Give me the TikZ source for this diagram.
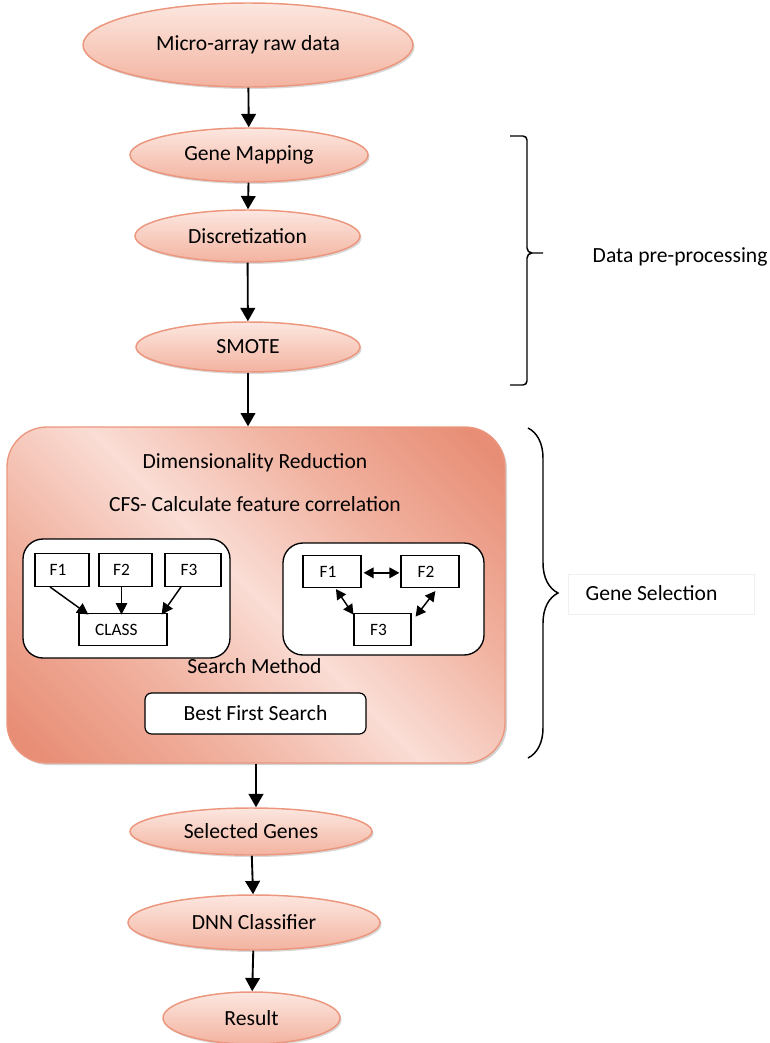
\documentclass[tikz,border=0pt]{standalone}
\usepackage{fontspec}
\setmainfont{Carlito}
\usetikzlibrary{shapes.geometric,arrows.meta,shadows,decorations.pathreplacing}
\definecolor{ellB}{HTML}{EB967D}
\definecolor{ellT}{HTML}{FCE7E0}
\definecolor{ellBot}{HTML}{F3B3A0}
\definecolor{bigD}{HTML}{E88E76}
\definecolor{bigM}{HTML}{F1B3A1}
\definecolor{bigL}{HTML}{FADDD5}
\pgfdeclarehorizontalshading{bigshade}{100bp}{color(0bp)=(bigD); color(18bp)=(bigD); color(35bp)=(bigM); color(50bp)=(bigL); color(65bp)=(bigM); color(82bp)=(bigD); color(100bp)=(bigD)}
\begin{document}
\begin{tikzpicture}[x=0.75pt,y=-0.75pt,
  mainfont/.style={font=\fontsize{16.2}{19}\selectfont},
  ell/.style={ellipse, draw=ellB, line width=1.1pt, top color=ellT, bottom color=ellBot,
    inner sep=0pt, mainfont, drop shadow={shadow xshift=1.2pt, shadow yshift=-1.5pt, opacity=0.3}},
  arr/.style={line width=1.4pt, -{Triangle[length=10pt,width=11pt]}},
  iarr/.style={line width=1.1pt, -{Triangle[length=8.5pt,width=8.5pt]}},
  darr/.style={line width=1.1pt, {Triangle[length=7.5pt,width=8pt]}-{Triangle[length=7.5pt,width=8pt]}},
  fbox/.style={draw, line width=0.9pt, fill=white, inner sep=0pt, minimum height=24.5pt, font=\fontsize{13}{15}\selectfont},
  inbox/.style={draw, line width=1pt, fill=white, rounded corners=15pt, inner sep=0pt},
  brace/.style={line width=1.1pt}
]
\useasboundingbox (0,0) rectangle (770,1043);

% top pipeline
\node[ell, minimum width=247.5pt, minimum height=63pt] (raw) at (248,45) {Micro-array raw data};
\node[ell, minimum width=178.5pt, minimum height=40.5pt] (gm) at (249,155) {Gene Mapping};
\node[ell, minimum width=168.75pt, minimum height=39pt] (disc) at (247.5,236) {Discretization};
\node[ell, minimum width=168pt, minimum height=37.5pt] (smote) at (248,347) {SMOTE};

% big box
\node[draw=ellB, line width=1pt, rounded corners=30pt, shading=bigshade, shading angle=45,
  minimum width=373.5pt, minimum height=252pt, inner sep=0pt,
  drop shadow={shadow xshift=1.5pt, shadow yshift=-1.5pt, opacity=0.35}] (big) at (256,595) {};

\node[mainfont] (dr) at (255,463) {Dimensionality Reduction};
\node[mainfont] (cfs) at (255,504) {CFS- Calculate feature correlation};

% left inner
\node[inbox, minimum width=155.25pt, minimum height=89.25pt] (lin) at (126.5,598.5) {};
\node[fbox, minimum width=40.5pt] (lf1) at (62,570) {\hspace*{-6pt}F1};
\node[fbox, minimum width=39.75pt] (lf2) at (125.5,570) {\hspace*{-6pt}F2};
\node[fbox, minimum width=42pt] (lf3) at (193,570) {\hspace*{-6pt}F3};
\node[fbox, minimum width=66pt] (cls) at (123,629.5) {\hspace*{-10pt}CLASS};
\draw[iarr] ([xshift=-9pt]lf1.south) -- ([xshift=7.5pt,yshift=-1.5pt]cls.north west);
\draw[iarr] ([xshift=-3pt]lf2.south) -- ([xshift=-3pt,yshift=-1.5pt]lf2.south |- cls.north);
\draw[iarr] ([xshift=-9pt]lf3.south) -- ([xshift=-4.5pt,yshift=-1.5pt]cls.north east);

% right inner
\node[inbox, minimum width=150.75pt, minimum height=84pt] (rin) at (383.5,599) {};
\node[fbox, minimum width=43.5pt] (rf1) at (332,571.5) {\hspace*{-6pt}F1};
\node[fbox, minimum width=43.5pt] (rf2) at (430,571.5) {\hspace*{-6pt}F2};
\node[fbox, minimum width=42.75pt] (rf3) at (382.5,629.5) {\hspace*{-6pt}F3};
\draw[darr] ([xshift=1.5pt,yshift=-1pt]rf1.east) -- ([xshift=-0.75pt,yshift=-1pt]rf2.west);
\draw[darr] ([xshift=3pt,yshift=-0.5pt]rf1.south) -- ([yshift=-1.5pt]rf3.north west);
\draw[darr] ([xshift=4pt,yshift=-2pt]rf2.south) -- ([xshift=3pt,yshift=-3pt]rf3.north east);

\node[mainfont] (sm) at (254.5,666) {Search Method};
\node[draw, line width=0.9pt, fill=white, rounded corners=5pt, minimum width=165.75pt,
  minimum height=30.75pt, inner sep=0pt, mainfont] (bfs) at (255.5,713.5) {Best First Search};

% bottom pipeline
\node[ell, minimum width=181.5pt, minimum height=35.25pt] (sel) at (251,831.5) {Selected Genes};
\node[ell, minimum width=189pt, minimum height=41.25pt] (dnn) at (254,922.5) {DNN Classifier};
\node[ell, minimum width=132.75pt, minimum height=39pt] (res) at (251.5,1018) {Result};

% connectors
\draw[arr] (raw) -- (gm);
\draw[arr] (gm) -- (disc);
\draw[arr] (disc) -- (smote);
\draw[arr] (smote.south) -- (smote.south |- big.north);
\draw[arr] (big.south) -- (big.south |- sel.north);
\draw[arr] (sel) -- (dnn);
\draw[arr] (dnn) -- (res);

% data pre-processing brace
\coordinate (dtop) at (510,136);
\coordinate (dbot) at (510,385);
\coordinate (dtip) at (543,253);
\draw[brace] (dtop) -- (523,136) to[out=0,in=90] (527,140) -- (527,248) to[out=-90,in=180] (532,253) -- (dtip);
\draw[brace] (532,253) to[out=180,in=90] (527,258) -- (527,381) to[out=-90,in=0] (523,385) -- (dbot);
\node[mainfont, anchor=west] (dpp) at (588,257) {Data pre-processing};

% gene selection brace
\coordinate (gtop) at (528,428);
\coordinate (gbot) at (528,758);
\draw[brace, decorate, decoration={brace, amplitude=22.5pt}] (gtop) -- (gbot);
\node[draw=gray!12, line width=0.6pt, minimum width=140pt, minimum height=30pt, inner sep=0pt] (gsbox) at (661.5,594) {};
\node[mainfont, anchor=west] (gs) at (581,593) {Gene Selection};
\end{tikzpicture}
\end{document}
